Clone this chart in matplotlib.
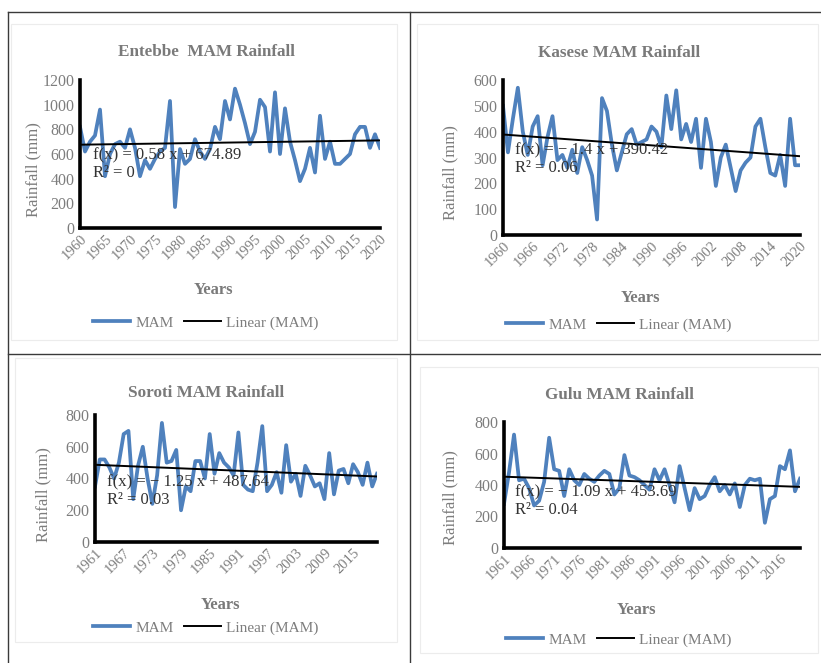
import matplotlib
matplotlib.use('Agg')
import matplotlib.pyplot as plt
from matplotlib.lines import Line2D
from matplotlib.patches import Rectangle
import numpy as np

plt.rcParams['font.family'] = ['Liberation Serif', 'DejaVu Serif']

# MAM rainfall per station (mm)
entebbe_years = list(range(1960, 2021))
entebbe_mam = [820, 620, 700, 750, 960, 420, 600, 680, 700, 650,
               800, 650, 420, 550, 480, 560, 620, 650, 1030, 170,
               640, 520, 560, 720, 620, 560, 640, 820, 720, 1030,
               880, 1130, 1000, 850, 680, 780, 1040, 980, 620, 1100,
               600, 970, 700, 550, 380, 480, 650, 450, 910, 560,
               700, 520, 520, 560, 600, 760, 820, 820, 650, 760, 650]

kasese_years = list(range(1960, 2021))
kasese_mam = [500, 320, 450, 570, 400, 310, 420, 460, 270, 380,
              460, 290, 310, 260, 330, 240, 340, 290, 230, 60,
              530, 480, 350, 250, 320, 390, 410, 350, 360, 370,
              420, 400, 340, 540, 410, 560, 370, 430, 360, 450,
              260, 450, 360, 190, 300, 350, 260, 170, 250, 280,
              300, 420, 450, 340, 240, 230, 310, 190, 450, 270, 270]

soroti_years = list(range(1961, 2021))
soroti_mam = [350, 520, 520, 470, 400, 500, 680, 700, 270, 480,
              600, 400, 240, 420, 750, 500, 510, 580, 200, 350,
              320, 510, 510, 400, 680, 430, 560, 500, 470, 420,
              690, 360, 330, 320, 500, 730, 320, 360, 440, 310,
              610, 380, 430, 290, 480, 420, 350, 370, 270, 560,
              300, 450, 460, 370, 490, 440, 360, 500, 350, 430]

gulu_years = list(range(1961, 2021))
gulu_mam = [280, 480, 720, 430, 440, 380, 270, 300, 420, 700,
            500, 490, 330, 500, 430, 400, 470, 440, 420, 460,
            490, 470, 340, 380, 590, 460, 450, 430, 400, 370,
            500, 430, 500, 400, 290, 520, 380, 240, 380, 310,
            330, 400, 450, 360, 400, 340, 410, 260, 400, 440,
            430, 440, 160, 310, 330, 520, 500, 620, 360, 440]

# Linear trendline coefficients shown on each chart
trend_slope = [0.58, -1.4, -1.25, -1.09]
trend_intercept = [674.89, 390.42, 487.64, 453.69]
trend_r2 = ['0', '0.06', '0.03', '0.04']
eq_labels = ['f(x) = 0.58 x + 674.89', 'f(x) = \u2212 1.4 x + 390.42',
             'f(x) = \u2212 1.25 x + 487.64', 'f(x) = \u2212 1.09 x + 453.69']

titles = ['Entebbe  MAM Rainfall', 'Kasese MAM Rainfall',
          'Soroti MAM Rainfall', 'Gulu MAM Rainfall']
y_max = [1200, 600, 800, 800]
y_step = [200, 100, 200, 200]
x_step = [5, 6, 6, 5]

series = [(entebbe_years, entebbe_mam), (kasese_years, kasese_mam),
          (soroti_years, soroti_mam), (gulu_years, gulu_mam)]

# layout in pixels: plot box (l, t, r, b), chart area, text positions
layout = [
    dict(plot=(80, 80, 380, 228), chart=(11, 24, 397, 340), cx=206,
         title_y=52, ylab=(33, 170), eq=(93, 155), years=(213, 290), leg_y=323),
    dict(plot=(503, 80, 800, 235), chart=(417, 24, 818, 340), cx=619,
         title_y=53, ylab=(450, 173), eq=(515, 150), years=(640, 298), leg_y=325),
    dict(plot=(95, 415, 377, 542), chart=(15, 358, 397, 642), cx=206,
         title_y=393, ylab=(43, 495), eq=(107, 482), years=(220, 605), leg_y=628),
    dict(plot=(504, 422, 800, 548), chart=(420, 367, 818, 653), cx=619,
         title_y=395, ylab=(450, 498), eq=(515, 492), years=(636, 610), leg_y=640),
]

W, H = 821, 663
fig = plt.figure(figsize=(W / 100, H / 100), dpi=100)


def fx(x):
    return x / W


def fy(y):
    return 1 - y / H


gray = '#7d7d7d'
blue = '#4f81bd'

for i, (years, vals) in enumerate(series):
    lay = layout[i]
    l, t, r, b = lay['plot']

    # faint chart-area frame
    cl, ct, cr, cb = lay['chart']
    fig.add_artist(Rectangle((fx(cl), fy(cb)), fx(cr) - fx(cl), fy(ct) - fy(cb),
                             transform=fig.transFigure, fill=False,
                             edgecolor='#ececec', linewidth=0.8))

    ax = fig.add_axes([fx(l), fy(b), fx(r) - fx(l), fy(t) - fy(b)])
    idx = np.arange(len(years))
    ax.plot(idx, vals, color=blue, linewidth=2.7, label='MAM',
            solid_joinstyle='round')
    trend = trend_slope[i] * (idx + 1) + trend_intercept[i]
    ax.plot(idx, trend, color='black', linewidth=1.4, label='Linear (MAM)')

    ax.set_xlim(0, len(years) - 1)
    ax.set_ylim(0, y_max[i])
    ax.set_yticks(range(0, y_max[i] + 1, y_step[i]))
    ticks = idx[::x_step[i]]
    ax.set_xticks(ticks)
    ax.set_xticklabels([str(years[k]) for k in ticks], rotation=45,
                       ha='right', rotation_mode='anchor')
    ax.tick_params(length=0, labelsize=11.5, labelcolor=gray, pad=4)
    ax.tick_params(axis='x', labelsize=10.5, pad=3)
    for s in ['top', 'right']:
        ax.spines[s].set_visible(False)
    for s in ['left', 'bottom']:
        ax.spines[s].set_linewidth(2.6)
        ax.spines[s].set_color('black')
    ax.patch.set_alpha(0)

    fig.text(fx(lay['cx']), fy(lay['title_y']), titles[i], ha='center',
             va='center', fontsize=12.3, fontweight='bold', color='#7a7a7a')
    fig.text(fx(lay['ylab'][0]), fy(lay['ylab'][1]), 'Rainfall (mm)',
             rotation=90, ha='center', va='center', fontsize=12, color=gray)
    fig.text(fx(lay['years'][0]), fy(lay['years'][1]), 'Years', ha='center',
             va='center', fontsize=12, fontweight='bold', color='#7a7a7a')
    ex, ey = lay['eq']
    fig.text(fx(ex), fy(ey), eq_labels[i], ha='left', va='center',
             fontsize=12, color='#333333', zorder=10)
    fig.text(fx(ex), fy(ey + 18), 'R\u00b2 = ' + trend_r2[i], ha='left',
             va='center', fontsize=12, color='#333333', zorder=10)

    leg = ax.legend(loc='center', bbox_to_anchor=(fx(lay['cx']), fy(lay['leg_y'])),
                    bbox_transform=fig.transFigure, ncol=2, frameon=False,
                    fontsize=11, handlelength=2.4, handletextpad=0.35,
                    columnspacing=0.7, borderpad=0)
    for txt in leg.get_texts():
        txt.set_color(gray)

# table grid lines
grid = dict(color='#3a3a3a', linewidth=1.0, transform=fig.transFigure)
fig.add_artist(Line2D([fx(8), fx(821)], [fy(12), fy(12)], **grid))
fig.add_artist(Line2D([fx(8), fx(821)], [fy(354), fy(354)], **grid))
fig.add_artist(Line2D([fx(8), fx(8)], [fy(12), fy(663)], **grid))
fig.add_artist(Line2D([fx(410), fx(410)], [fy(12), fy(663)], **grid))

fig.savefig('out.png', dpi=100)
